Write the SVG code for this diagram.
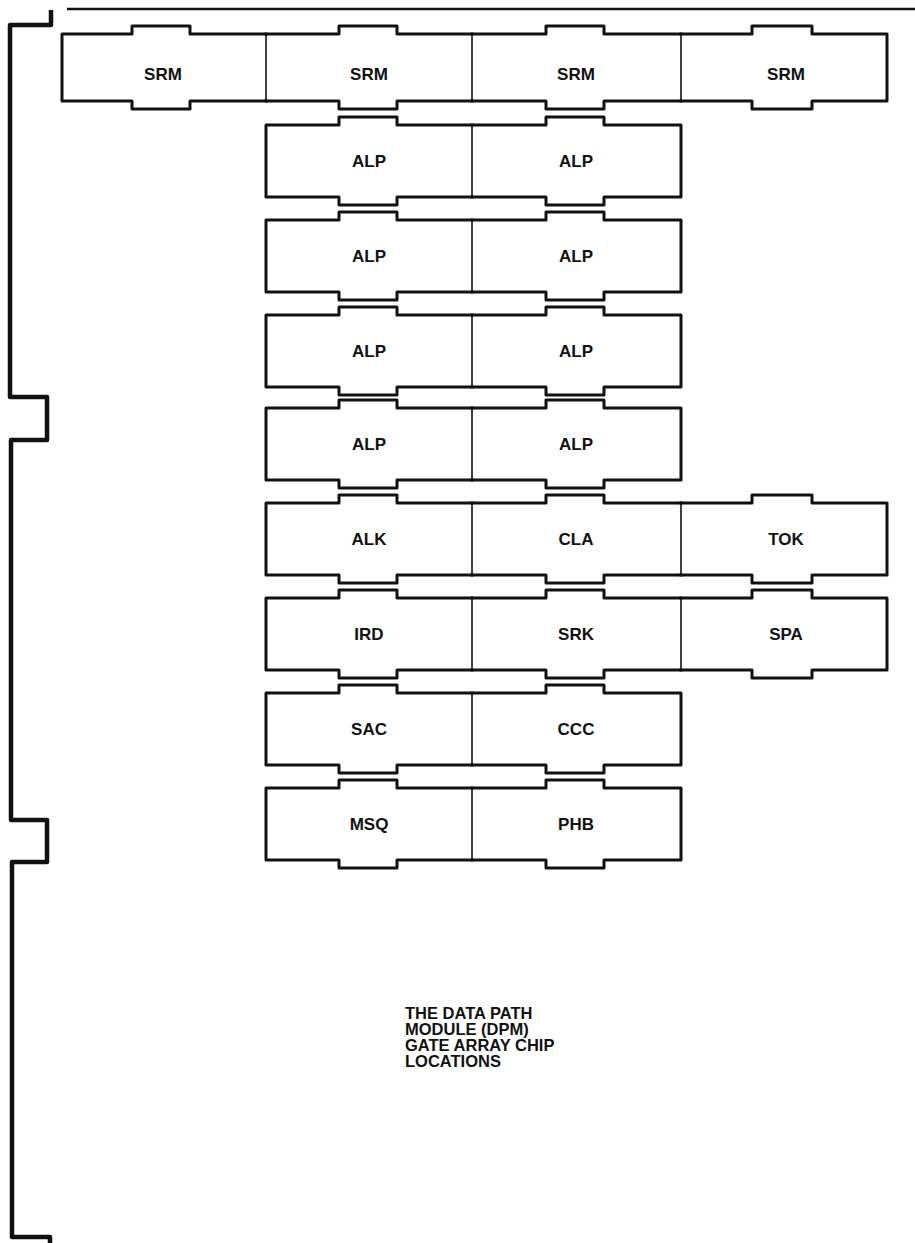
<svg xmlns="http://www.w3.org/2000/svg" width="915" height="1243" viewBox="0 0 915 1243">
<style>
.bg{fill:#ffffff}
.chip{fill:none;stroke:#111;stroke-width:3;stroke-linejoin:round;stroke-linecap:square}
.div{fill:none;stroke:#111;stroke-width:1.6}
.board{fill:none;stroke:#111;stroke-width:4.5;stroke-linejoin:round}
.edge{fill:none;stroke:#111;stroke-width:2.5}
.lbl{font-family:"Liberation Sans",Arial,sans-serif;font-weight:bold;font-size:17px;fill:#111;text-anchor:middle}
.title{font-family:"Liberation Sans",Arial,sans-serif;font-weight:bold;font-size:16.5px;fill:#111}
</style>
<rect class="bg" x="0" y="0" width="915" height="1243"/>
<g id="board">
<path class="board" d="M51 10 V25 H10 V397 H47 V440 H11 V820 H47 V862 H12 V1237 H50 V1243"/>
<path class="edge" d="M67 9 H915"/>
</g>
<g id="connectors"></g>

<!-- SRM row -->
<g id="srm1"><path class="chip" d="M266 34 H190 V26 H132 V34 H62 V101 H132 V109 H190 V101 H266"/><text class="lbl" x="163" y="80">SRM</text></g>
<g id="srm2"><path class="chip" d="M266 34 H339 V26 H397 V34 H472 M266 101 H339 V109 H397 V101 H472"/><path class="div" d="M266 34 V101"/><text class="lbl" x="369" y="80">SRM</text></g>
<g id="srm3"><path class="chip" d="M472 34 H546 V26 H604 V34 H681 M472 101 H546 V109 H604 V101 H681"/><path class="div" d="M472 34 V101"/><text class="lbl" x="576" y="80">SRM</text></g>
<g id="srm4"><path class="chip" d="M681 34 H752 V26 H812 V34 H887 V101 H812 V109 H752 V101 H681"/><path class="div" d="M681 34 V101"/><text class="lbl" x="786" y="80">SRM</text></g>

<!-- ALP rows -->
<g id="alp1a"><path class="chip" d="M472 125 H397 V117 H339 V125 H266 V197 H339 V205 H397 V197 H472"/><text class="lbl" x="369" y="167">ALP</text></g>
<g id="alp1b"><path class="chip" d="M472 125 H546 V117 H604 V125 H681 V197 H604 V205 H546 V197 H472"/><path class="div" d="M472 125 V197"/><text class="lbl" x="576" y="167">ALP</text></g>

<g id="alp2a"><path class="chip" d="M472 220 H397 V212 H339 V220 H266 V292 H339 V300 H397 V292 H472"/><text class="lbl" x="369" y="262">ALP</text></g>
<g id="alp2b"><path class="chip" d="M472 220 H546 V212 H604 V220 H681 V292 H604 V300 H546 V292 H472"/><path class="div" d="M472 220 V292"/><text class="lbl" x="576" y="262">ALP</text></g>

<g id="alp3a"><path class="chip" d="M472 315 H397 V307 H339 V315 H266 V387 H339 V395 H397 V387 H472"/><text class="lbl" x="369" y="357">ALP</text></g>
<g id="alp3b"><path class="chip" d="M472 315 H546 V307 H604 V315 H681 V387 H604 V395 H546 V387 H472"/><path class="div" d="M472 315 V387"/><text class="lbl" x="576" y="357">ALP</text></g>

<g id="alp4a"><path class="chip" d="M472 408 H397 V400 H339 V408 H266 V480 H339 V488 H397 V480 H472"/><text class="lbl" x="369" y="450">ALP</text></g>
<g id="alp4b"><path class="chip" d="M472 408 H546 V400 H604 V408 H681 V480 H604 V488 H546 V480 H472"/><path class="div" d="M472 408 V480"/><text class="lbl" x="576" y="450">ALP</text></g>

<!-- ALK / CLA / TOK -->
<g id="alk"><path class="chip" d="M472 503 H397 V495 H339 V503 H266 V575 H339 V583 H397 V575 H472"/><text class="lbl" x="369" y="545">ALK</text></g>
<g id="cla"><path class="chip" d="M472 503 H546 V495 H604 V503 H681 M472 575 H546 V583 H604 V575 H681"/><path class="div" d="M472 503 V575"/><text class="lbl" x="576" y="545">CLA</text></g>
<g id="tok"><path class="chip" d="M681 503 H752 V495 H812 V503 H887 V575 H812 V583 H752 V575 H681"/><path class="div" d="M681 503 V575"/><text class="lbl" x="786" y="545">TOK</text></g>

<!-- IRD / SRK / SPA -->
<g id="ird"><path class="chip" d="M472 598 H397 V590 H339 V598 H266 V670 H339 V678 H397 V670 H472"/><text class="lbl" x="369" y="640">IRD</text></g>
<g id="srk"><path class="chip" d="M472 598 H546 V590 H604 V598 H681 M472 670 H546 V678 H604 V670 H681"/><path class="div" d="M472 598 V670"/><text class="lbl" x="576" y="640">SRK</text></g>
<g id="spa"><path class="chip" d="M681 598 H752 V590 H812 V598 H887 V670 H812 V678 H752 V670 H681"/><path class="div" d="M681 598 V670"/><text class="lbl" x="786" y="640">SPA</text></g>

<!-- SAC / CCC -->
<g id="sac"><path class="chip" d="M472 693 H397 V685 H339 V693 H266 V765 H339 V773 H397 V765 H472"/><text class="lbl" x="369" y="735">SAC</text></g>
<g id="ccc"><path class="chip" d="M472 693 H546 V685 H604 V693 H681 V765 H604 V773 H546 V765 H472"/><path class="div" d="M472 693 V765"/><text class="lbl" x="576" y="735">CCC</text></g>

<!-- MSQ / PHB -->
<g id="msq"><path class="chip" d="M472 788 H397 V780 H339 V788 H266 V860 H339 V868 H397 V860 H472"/><text class="lbl" x="369" y="830">MSQ</text></g>
<g id="phb"><path class="chip" d="M472 788 H546 V780 H604 V788 H681 V860 H604 V868 H546 V860 H472"/><path class="div" d="M472 788 V860"/><text class="lbl" x="576" y="830">PHB</text></g>

<g id="caption">
<text class="title" x="405" y="1019">THE DATA PATH</text>
<text class="title" x="405" y="1035">MODULE (DPM)</text>
<text class="title" x="405" y="1051">GATE ARRAY CHIP</text>
<text class="title" x="405" y="1067">LOCATIONS</text>
</g>
</svg>
